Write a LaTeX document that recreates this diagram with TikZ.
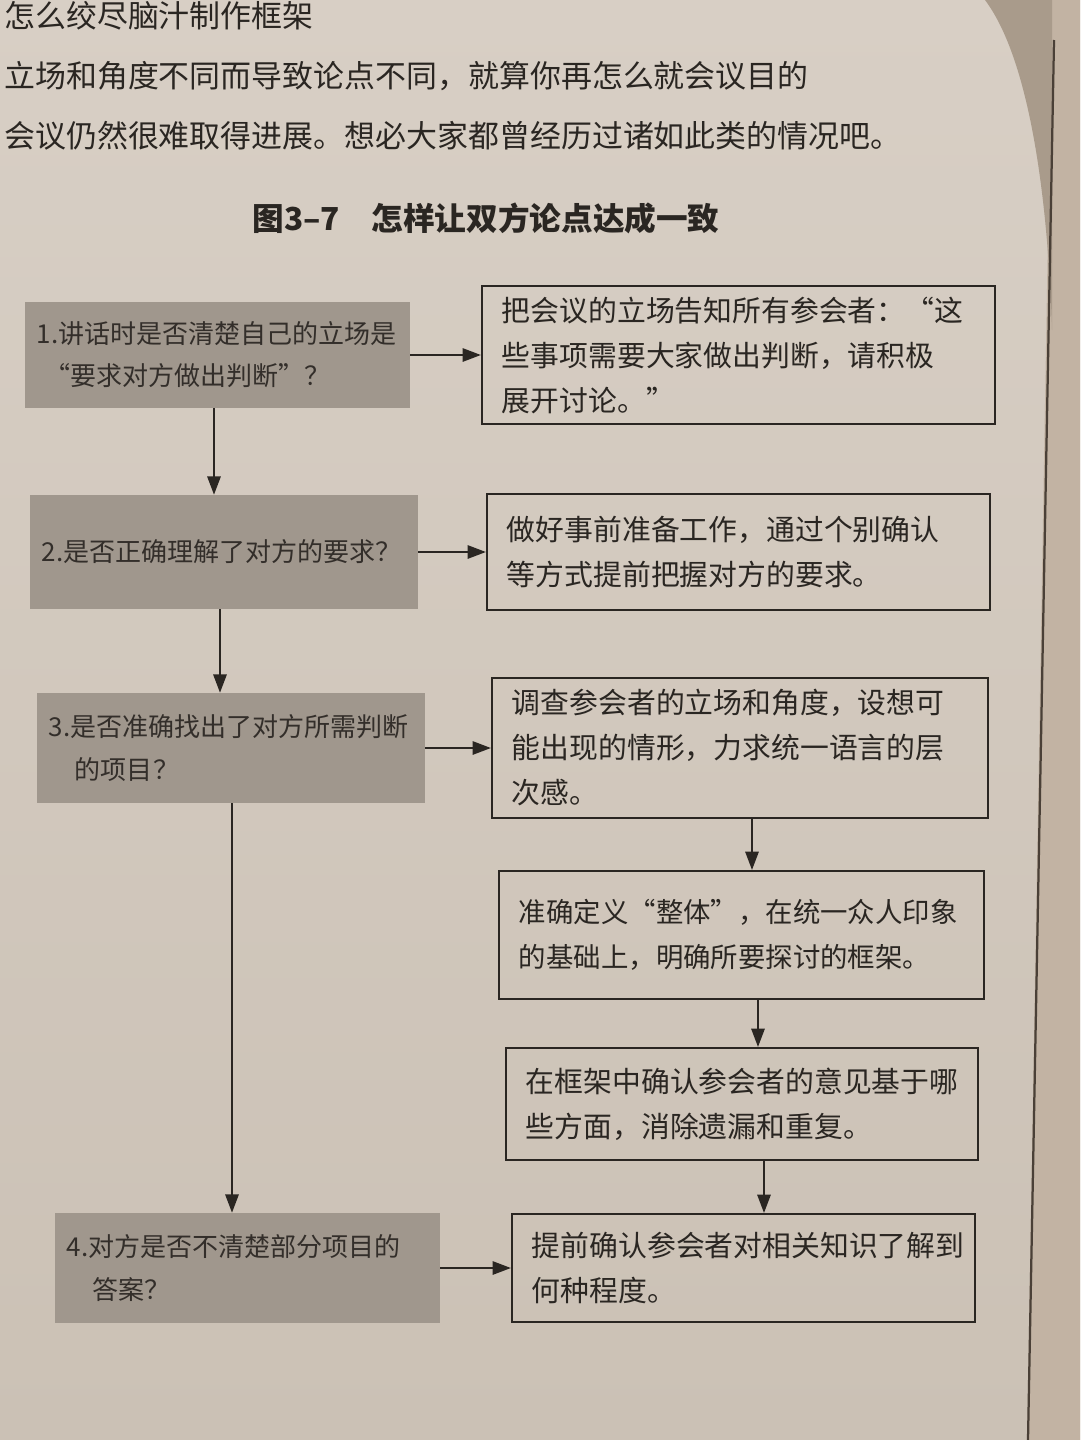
\documentclass[tikz,border=0pt]{standalone}
\usepackage{fontspec}
\setmainfont{Noto Sans CJK SC}
\usetikzlibrary{arrows.meta}

\definecolor{paper}{HTML}{D8CFC5}
\definecolor{paperlow}{HTML}{CBC1B5}
\definecolor{curlshade}{HTML}{A99B8B}
\definecolor{nextpage}{HTML}{C2B3A3}
\definecolor{edgeline}{HTML}{4A4037}
\definecolor{boxgrey}{HTML}{A0978D}
\definecolor{ink}{HTML}{2A2622}
\definecolor{greyink}{HTML}{332E2A}

\newcommand\qfont{\fontsize{18.5pt}{30pt}\selectfont}
\newcommand\afont{\fontsize{20.5pt}{32pt}\selectfont}
\newcommand\afontsmall{\fontsize{19.5pt}{32pt}\selectfont}
\newcommand\bodyfont{\fontsize{22pt}{30pt}\selectfont}
\newcommand\titlefont{\fontsize{22.5pt}{28pt}\selectfont\bfseries}

\begin{document}
\begin{tikzpicture}[x=0.025cm, y=-0.025cm,
  qbox/.style={rectangle, fill=boxgrey, text=greyink, font=\qfont,
    align=left, inner xsep=0.3cm, inner ysep=0pt},
  abox/.style={rectangle, draw=ink, line width=1.5pt, text=ink, font=\afont,
    align=left, inner xsep=0.5cm, inner ysep=0pt},
  link/.style={draw=ink, line width=1.3pt, -{Triangle[length=13pt,width=9.5pt]}},
  body/.style={anchor=west, text=ink, font=\bodyfont, inner sep=0pt}
]
\useasboundingbox (0,0) rectangle (1080,1440);
\clip (0,0) rectangle (1080,1440);

% page
\shade[top color=paper, bottom color=paperlow] (0,0) rectangle (1080,1440);
% curled outer edge of the page and the leaf beyond it
\fill[nextpage] (1052,0) -- (1080,0) -- (1080,1440) -- (1027,1440) -- cycle;
\fill[curlshade] (985,0) .. controls (1030,60) and (1048,200) .. (1052,330)
  -- (1052,0) -- cycle;
\draw[edgeline, line width=1.6pt] (1054,40) -- (1028,1440);

% running text above the figure
\node[body] (line1) at (4,16) {怎么绞尽脑汁制作框架};
\node[body] (line2) at (4,76) {立场和角度不同而导致论点不同，就算你再怎么就会议目的};
\node[body] (line3) at (4,136) {会议仍然很难取得进展。想必大家都曾经历过诸如此类的情况吧。};

% figure caption
\node[text=ink, font=\titlefont, inner sep=0pt] (title) at (486,218)
  {图3–7\hspace{1em}怎样让双方论点达成一致};

% questions (grey boxes)
\node[qbox, text width=9.025cm, minimum height=2.65cm] (q1) at (217.5,355)
  {1.讲话时是否清楚自己的立场是\\\hspace*{0.3em}“要求对方做出判断”？};
\node[qbox, text width=9.1cm, minimum height=2.85cm] (q2) at (224,552)
  {2.是否正确理解了对方的要求？};
\node[qbox, text width=9.1cm, minimum height=2.75cm] (q3) at (231,748)
  {3.是否准确找出了对方所需判断\\\hspace*{1em}的项目？};
\node[qbox, text width=9.025cm, minimum height=2.75cm] (q4) at (247.5,1268)
  {4.对方是否不清楚部分项目的\\\hspace*{1em}答案？};

% actions (outlined boxes)
\node[abox, text width=11.825cm, minimum height=3.45cm] (a1) at (738.5,355)
  {把会议的立场告知所有参会者：“这\\些事项需要大家做出判断，请积极\\展开讨论。”};
\node[abox, text width=11.575cm, minimum height=2.9cm] (a2) at (738.5,552)
  {做好事前准备工作，通过个别确认\\等方式提前把握对方的要求。};
\node[abox, text width=11.4cm, minimum height=3.5cm] (a3) at (740,748)
  {调查参会者的立场和角度，设想可\\能出现的情形，力求统一语言的层\\次感。};
\node[abox, font=\afontsmall, text width=11.125cm, minimum height=3.2cm] (a4) at (741.5,935)
  {准确定义“整体”，在统一众人印象\\的基础上，明确所要探讨的框架。};
\node[abox, text width=10.8cm, minimum height=2.8cm] (a5) at (742,1104)
  {在框架中确认参会者的意见基于哪\\些方面，消除遗漏和重复。};
\node[abox, text width=10.575cm, minimum height=2.7cm] (a6) at (743.5,1268)
  {提前确认参会者对相关知识了解到\\何种程度。};

% columns for the vertical connectors
\coordinate (c1) at (214,0);
\coordinate (c2) at (220,0);
\coordinate (c3) at (232,0);
\coordinate (c4) at (752,0);
\coordinate (c5) at (758,0);
\coordinate (c6) at (764,0);

% question to action
\draw[link] (q1) -- (a1);
\draw[link] (q2) -- (a2);
\draw[link] (q3) -- (a3);
\draw[link] (q4) -- (a6);

% down the question column
\draw[link] (q1.south -| c1) -- (q2.north -| c1);
\draw[link] (q2.south -| c2) -- (q3.north -| c2);
\draw[link] (q3.south -| c3) -- (q4.north -| c3);

% down the action column
\draw[link] (a3.south -| c4) -- (a4.north -| c4);
\draw[link] (a4.south -| c5) -- (a5.north -| c5);
\draw[link] (a5.south -| c6) -- (a6.north -| c6);
\end{tikzpicture}
\end{document}
